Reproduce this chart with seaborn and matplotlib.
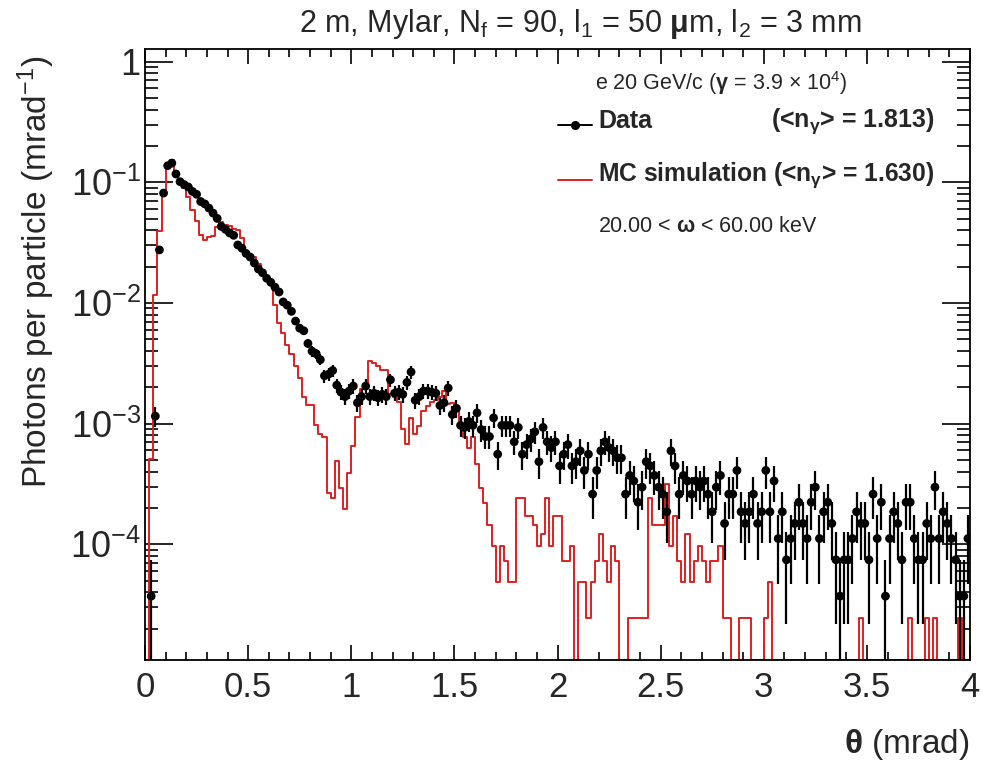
import numpy as np
import pandas as pd
import matplotlib
matplotlib.use("Agg")
import matplotlib.pyplot as plt
import seaborn as sns
from matplotlib.lines import Line2D
from matplotlib.ticker import (MultipleLocator, FixedLocator, FuncFormatter,
                               NullFormatter)

# Binning of the emission angle (mrad)
theta_lo, theta_hi, bin_width = 0.0, 4.0, 0.02

# Measured photon counts per 0.02 mrad bin and the per-count normalisation
data_counts = [
    0, 1, 31, 739, 2185, 3683, 3871, 3145, 2715, 2567,
    2452, 2253, 2134, 1860, 1777, 1640, 1492, 1347, 1156, 1094,
    1022, 976, 812, 763, 691, 645, 575, 513, 478, 430,
    398, 363, 331, 274, 257, 229, 190, 166, 158, 124,
    107, 102, 91, 67, 69, 74, 56, 49, 45, 50,
    55, 40, 45, 55, 45, 48, 44, 47, 45, 62,
    48, 49, 47, 59, 72, 42, 45, 50, 50, 49,
    48, 38, 40, 53, 32, 36, 26, 25, 28, 26,
    33, 24, 21, 21, 30, 15, 26, 26, 26, 19,
    25, 15, 18, 20, 23, 13, 25, 19, 17, 19,
    12, 15, 18, 12, 13, 16, 11, 15, 7, 11,
    16, 19, 17, 16, 14, 14, 7, 10, 9, 6,
    8, 13, 12, 10, 8, 7, 5, 16, 12, 7,
    10, 9, 7, 9, 8, 9, 7, 5, 8, 10,
    4, 7, 7, 11, 5, 4, 5, 7, 4, 5,
    11, 5, 9, 3, 5, 2, 3, 4, 6, 4,
    3, 6, 8, 3, 5, 6, 4, 2, 1, 2,
    2, 3, 5, 4, 4, 2, 7, 3, 6, 1,
    3, 5, 4, 2, 6, 6, 3, 2, 2, 4,
    3, 8, 3, 5, 4, 3, 2, 1, 1, 3,
]
data_weight = 3.72e-5

# Simulated photon counts per bin and the per-count normalisation
mc_counts = [
    0, 21, 481, 1638, 3300, 5844, 6296, 4733, 4049, 3667,
    3123, 2424, 1947, 1510, 1362, 1444, 1481, 1757, 1926, 1827,
    1770, 1675, 1663, 1428, 1000, 1000, 988, 860, 733, 638,
    580, 397, 278, 231, 184, 156, 124, 99, 69, 59,
    59, 40, 34, 32, 11, 10, 20, 12, 8, 16,
    27, 47, 79, 88, 136, 130, 124, 115, 115, 72,
    68, 62, 37, 28, 46, 34, 39, 52, 58, 62,
    65, 69, 77, 60, 61, 52, 41, 32, 26, 32,
    19, 12, 9, 6, 4, 2, 4, 3, 2, 2,
    10, 10, 7, 7, 6, 4, 5, 10, 4, 7,
    7, 3, 3, 4, 0, 2, 2, 1, 2, 3,
    5, 3, 2, 4, 3, 0, 0, 1, 1, 1,
    1, 1, 10, 6, 6, 6, 13, 4, 7, 3,
    2, 5, 2, 3, 4, 3, 2, 3, 3, 4,
    1, 1, 0, 0, 1, 1, 1, 0, 0, 0,
    1, 2, 0, 0, 0, 0, 0, 0, 0, 0,
    0, 0, 0, 0, 0, 0, 0, 0, 0, 0,
    0, 0, 0, 1, 0, 0, 0, 0, 0, 0,
    0, 0, 0, 0, 0, 1, 0, 0, 0, 1,
    0, 1, 0, 0, 0, 0, 0, 1, 0, 0,
]
mc_weight = 2.43e-5

x_tick_labels = ["0", "0.5", "1", "1.5", "2", "2.5", "3", "3.5", "4"]
y_decades = [-4, -3, -2, -1, 0]

title_text = (r"2 m, Mylar, N$_{\rm f}$ = 90, l$_{\rm 1}$ = 50 $\mathbf{\mu}$m, "
              r"l$_{\rm 2}$ = 3 mm")
beam_text = r"e 20 GeV/c ($\mathbf{\gamma}$ = 3.9 $\times$ 10$^{4}$)"
data_label, data_mean = "Data", 1.813
mc_label, mc_mean = "MC simulation", 1.630
cut_text = r"20.00 < $\mathbf{\omega}$ < 60.00 keV"

# ---------------------------------------------------------------- style
sns.set_style("ticks")
plt.rcParams["font.family"] = ["Liberation Sans", "DejaVu Sans"]
plt.rcParams["mathtext.fontset"] = "custom"
plt.rcParams["mathtext.rm"] = "Liberation Sans"
plt.rcParams["mathtext.it"] = "Liberation Sans:italic"
plt.rcParams["mathtext.bf"] = "Liberation Sans:bold"
plt.rcParams["axes.linewidth"] = 1.3

W, H = 983, 764
fig = plt.figure(figsize=(W / 100, H / 100), dpi=100)
fig.patch.set_facecolor("white")


def fx(px):
    return px / W


def fy(py):
    return 1 - py / H


ax = fig.add_axes([fx(145), fy(660), fx(970) - fx(145), fy(49) - fy(660)])
ymin, ymax = 1.1e-5, 1.27

edges = np.linspace(theta_lo, theta_hi, len(data_counts) + 1)
centers = 0.5 * (edges[:-1] + edges[1:])

# ---------------------------------------------------------------- MC histogram
mc_vals = np.asarray(mc_counts, float) * mc_weight
mc_plot = np.where(mc_vals > 0, mc_vals, ymin)
mc_df = pd.DataFrame({"theta": edges, "value": np.append(mc_plot, mc_plot[-1])})
red = "#e0201e"
sns.lineplot(data=mc_df, x="theta", y="value", ax=ax, color=red, lw=1.4,
             drawstyle="steps-post", estimator=None, sort=False, zorder=2)

# ---------------------------------------------------------------- data points
cnt = np.asarray(data_counts, float)
keep = cnt > 0
d_df = pd.DataFrame({
    "theta": centers[keep],
    "value": cnt[keep] * data_weight,
    "err": np.sqrt(cnt[keep]) * data_weight,
})
lower = np.minimum(d_df["err"], d_df["value"] * (1 - 1e-6))
ax.errorbar(d_df["theta"], d_df["value"], yerr=[lower, d_df["err"]], fmt="none",
            ecolor="black", elinewidth=1.6, capsize=0, zorder=3)
sns.scatterplot(data=d_df, x="theta", y="value", ax=ax, color="black", s=40,
                edgecolor="none", zorder=4, legend=False)

# ---------------------------------------------------------------- axes
ax.set_yscale("log")
ax.set_xlim(theta_lo, theta_hi)
ax.set_ylim(ymin, ymax)
ax.set_xlabel("")
ax.set_ylabel("")

ax.xaxis.set_major_locator(MultipleLocator(0.5))
ax.xaxis.set_minor_locator(MultipleLocator(0.1))
ax.xaxis.set_major_formatter(FuncFormatter(lambda v, p: x_tick_labels[int(round(v / 0.5))]
                                           if 0 <= round(v / 0.5) < len(x_tick_labels) else ""))
ax.yaxis.set_major_locator(FixedLocator([10.0 ** d for d in y_decades]))
minor_y = [m * 10.0 ** d for d in [-5] + y_decades for m in range(2, 10)]
ax.yaxis.set_minor_locator(FixedLocator([v for v in minor_y if ymin < v < ymax]))
ax.yaxis.set_minor_formatter(NullFormatter())
ax.yaxis.set_major_formatter(FuncFormatter(
    lambda v, p: "1" if abs(v - 1) < 1e-9 else r"$10^{%d}$" % int(round(np.log10(v)))))

ax.tick_params(axis="both", which="both", direction="in", top=True, right=True,
               color="black", width=1.2)
ax.tick_params(axis="x", which="major", length=11, labelsize=25, pad=8)
ax.tick_params(axis="x", which="minor", length=5.5)
ax.tick_params(axis="y", which="major", length=20, labelsize=26, pad=3)
ax.tick_params(axis="y", which="minor", length=9.5)
for s in ax.spines.values():
    s.set_color("black")

# ---------------------------------------------------------------- titles
fig.text(fx(580), fy(24), title_text, ha="center", va="center", fontsize=22)
fig.text(fx(36), fy(272), r"Photons per particle (mrad$^{-1}$)", rotation=90,
         ha="center", va="center", fontsize=24)
fig.text(fx(970), fy(745), r"$\mathbf{\theta}$ (mrad)", ha="right", va="center",
         fontsize=24)

# ---------------------------------------------------------------- legend block
fig.text(fx(595), fy(83), beam_text, ha="left", va="center", fontsize=15.5)
fig.text(fx(598), fy(121), data_label, ha="left", va="center", fontsize=18,
         fontweight="bold")
fig.text(fx(935), fy(121), r"(<n$_{\mathbf{\gamma}}$> = %.3f)" % data_mean, ha="right",
         va="center", fontsize=18, fontweight="bold")
fig.text(fx(598), fy(175), r"%s (<n$_{\mathbf{\gamma}}$> = %.3f)" % (mc_label, mc_mean),
         ha="left", va="center", fontsize=17.7, fontweight="bold")
fig.text(fx(598), fy(227), cut_text, ha="left", va="center", fontsize=15.5)

fig.add_artist(Line2D([fx(558), fx(592)], [fy(125), fy(125)], color="black", lw=1.4,
                      transform=fig.transFigure))
fig.add_artist(Line2D([fx(575)], [fy(125)], color="black", marker="o", ms=5.5,
                      ls="none", transform=fig.transFigure))
fig.add_artist(Line2D([fx(558), fx(592)], [fy(180), fy(180)], color=red, lw=1.4,
                      transform=fig.transFigure))

fig.savefig("out.png", dpi=100, facecolor="white")
